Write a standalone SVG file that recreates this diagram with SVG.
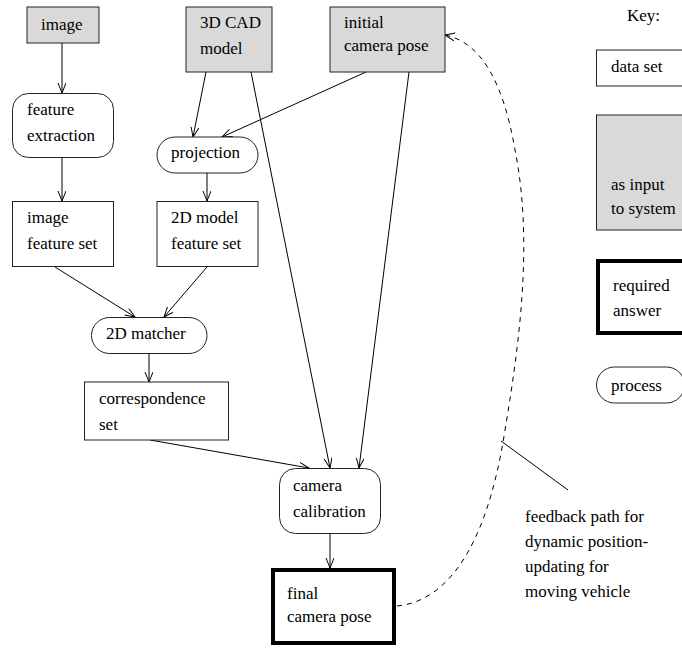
<svg xmlns="http://www.w3.org/2000/svg" width="682" height="648" viewBox="0 0 682 648">
<defs>
<marker id="arr" markerUnits="userSpaceOnUse" markerWidth="12" markerHeight="10" refX="10" refY="4" orient="auto">
<path d="M0,0 L10,4 L0,8" fill="none" stroke="#000" stroke-width="1"/>
</marker>
</defs>
<style>
.data{fill:#fff;stroke:#222;stroke-width:1}
.input{fill:#d9d9d9;stroke:#222;stroke-width:1}
.answer{fill:#fff;stroke:#000;stroke-width:4}
.proc{fill:#fff;stroke:#222;stroke-width:1}
.conn{fill:none;stroke:#000;stroke-width:1}
.dash{fill:none;stroke:#000;stroke-width:1;stroke-dasharray:5,5}
</style>
<rect width="682" height="648" fill="#fff"/>

<g id="connectors">
<line class="conn" x1="62" y1="43" x2="62" y2="93" marker-end="url(#arr)"/>
<line class="conn" x1="62" y1="158" x2="62" y2="201" marker-end="url(#arr)"/>
<line class="conn" x1="206" y1="72" x2="193" y2="137" marker-end="url(#arr)"/>
<line class="conn" x1="366" y1="72" x2="222" y2="137" marker-end="url(#arr)"/>
<line class="conn" x1="207" y1="173" x2="207" y2="201" marker-end="url(#arr)"/>
<line class="conn" x1="55" y1="267" x2="135" y2="317" marker-end="url(#arr)"/>
<line class="conn" x1="207" y1="267" x2="164" y2="317" marker-end="url(#arr)"/>
<line class="conn" x1="149" y1="353" x2="149" y2="382" marker-end="url(#arr)"/>
<line class="conn" x1="150" y1="440" x2="309" y2="468" marker-end="url(#arr)"/>
<line class="conn" x1="251" y1="72" x2="330" y2="468" marker-end="url(#arr)"/>
<line class="conn" x1="409" y1="72" x2="359" y2="468" marker-end="url(#arr)"/>
<line class="conn" x1="330" y1="533" x2="330" y2="568" marker-end="url(#arr)"/>
<path class="dash" d="M397,606 C440,602 485,560 505,430 C520,340 533,240 515,150 C503,80 480,42 445,35" marker-end="url(#arr)"/>
<line class="conn" x1="501" y1="441" x2="568" y2="490"/>
</g>

<g font-family="'Liberation Serif', 'DejaVu Serif', serif" font-size="17" fill="#000">
<g id="image"><rect class="input" x="27" y="7" width="72" height="36"/><text x="41" y="30">image</text></g>
<g id="cad"><rect class="input" x="186" y="7" width="86" height="65"/><text x="200" y="28">3D CAD</text><text x="200" y="54">model</text></g>
<g id="initialpose"><rect class="input" x="330" y="7" width="115" height="65"/><text x="344" y="28">initial</text><text x="344" y="51">camera pose</text></g>
<g id="featextract"><rect class="proc" x="12.5" y="93.5" width="101" height="64" rx="16"/><text x="27" y="115">feature</text><text x="27" y="141">extraction</text></g>
<g id="projection"><rect class="proc" x="157" y="137" width="101" height="36" rx="18"/><text x="171" y="158">projection</text></g>
<g id="imgfeat"><rect class="data" x="12.5" y="201.5" width="101" height="65"/><text x="27" y="223">image</text><text x="27" y="249">feature set</text></g>
<g id="modelfeat"><rect class="data" x="157" y="201.5" width="101" height="65"/><text x="171" y="223">2D model</text><text x="171" y="249">feature set</text></g>
<g id="matcher"><rect class="proc" x="91.5" y="317.5" width="115.5" height="36" rx="18"/><text x="106" y="339">2D matcher</text></g>
<g id="corresp"><rect class="data" x="84.5" y="382" width="144" height="58"/><text x="99" y="404">correspondence</text><text x="99" y="430">set</text></g>
<g id="calib"><rect class="proc" x="279.5" y="468.5" width="101" height="65" rx="16"/><text x="293" y="491">camera</text><text x="293" y="517">calibration</text></g>
<g id="finalpose"><rect class="answer" x="273" y="570" width="121" height="73"/><text x="287" y="599">final</text><text x="287" y="622">camera pose</text></g>

<g id="key">
<text x="627" y="21">Key:</text>
<rect class="data" x="596.5" y="50" width="100" height="36"/><text x="611" y="72">data set</text>
<rect class="input" x="596.5" y="115" width="100" height="115"/><text x="611" y="190">as input</text><text x="611" y="214">to system</text>
<rect class="answer" x="598" y="261" width="100" height="72"/><text x="613" y="291">required</text><text x="613" y="316">answer</text>
<rect class="proc" x="596.5" y="367" width="88" height="36" rx="18"/><text x="611" y="391">process</text>
</g>

<g id="feedbacklabel">
<text x="525" y="522">feedback path for</text>
<text x="525" y="547">dynamic position-</text>
<text x="525" y="572">updating for</text>
<text x="525" y="597">moving vehicle</text>
</g>
</g>
</svg>
